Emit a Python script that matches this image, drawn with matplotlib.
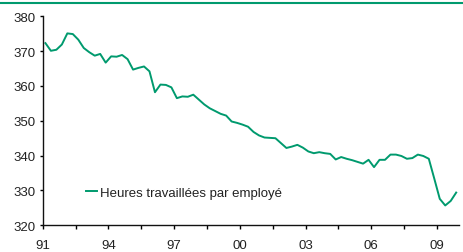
import matplotlib.pyplot as plt
from matplotlib.lines import Line2D

plt.rcParams['font.family'] = ['Liberation Sans', 'DejaVu Sans']

# Quarterly data, 1991 Q1 - 2009 Q4
start_year = 91
hours = [372.3, 370.1, 370.4, 371.9, 375.1, 374.9, 373.3, 370.9,
         369.7, 368.7, 369.2, 366.7, 368.5, 368.4, 368.9, 367.7,
         364.7, 365.2, 365.6, 364.2, 358.2, 360.4, 360.3, 359.6,
         356.5, 357.0, 356.9, 357.5, 356.1, 354.7, 353.6, 352.8,
         352.0, 351.5, 349.8, 349.4, 348.9, 348.3, 346.8, 345.8,
         345.2, 345.1, 345.0, 343.6, 342.2, 342.6, 343.1, 342.3,
         341.2, 340.7, 341.0, 340.7, 340.5, 338.9, 339.6, 339.1,
         338.7, 338.2, 337.7, 338.8, 336.7, 338.8, 338.8, 340.3,
         340.3, 339.9, 339.1, 339.3, 340.3, 339.9, 339.1, 333.4,
         327.6, 325.7, 327.0, 329.4]
x = [start_year + (i + 0.5) / 4 for i in range(len(hours))]

tick_pos = [91, 94, 97, 100, 103, 106, 109]
tick_labels = ["91", "94", "97", "00", "03", "06", "09"]
minor_pos = [92.5, 95.5, 98.5, 101.5, 104.5, 107.5]

green = "#009a6e"
text_col = "#222222"
fs = 9.5

fig = plt.figure(figsize=(4.63, 2.53), dpi=100)
ax = fig.add_axes([0.0922, 0.1055, 0.899, 0.8261])

ax.plot(x, hours, color=green, lw=1.4, label="Heures travaillées par employé")

ax.set_xlim(91, 110)
ax.set_ylim(320, 380)
ax.set_yticks(range(320, 381, 10))
ax.set_xticks(tick_pos)
ax.set_xticklabels(tick_labels)
ax.set_xticks(minor_pos, minor=True)

for s in ["top", "right"]:
    ax.spines[s].set_visible(False)
for s in ["left", "bottom"]:
    ax.spines[s].set_color("#111111")
    ax.spines[s].set_linewidth(1.0)

ax.tick_params(axis="y", direction="out", length=2.5, width=1.0,
               pad=2.5, labelsize=fs, labelcolor=text_col)
ax.tick_params(axis="x", which="both", direction="out", length=3, width=1.0,
               pad=6.5, labelsize=fs, labelcolor=text_col)

ax.legend(loc="center left", bbox_to_anchor=(0.104, 0.155), frameon=False,
          borderpad=0, borderaxespad=0, handlelength=0.85, handletextpad=0.2,
          fontsize=fs, labelcolor=text_col)

# green rule across the top
fig.add_artist(Line2D([0, 1], [0.984, 0.984], color=green, lw=1.5,
                      transform=fig.transFigure))

fig.savefig("out.png", dpi=100)
